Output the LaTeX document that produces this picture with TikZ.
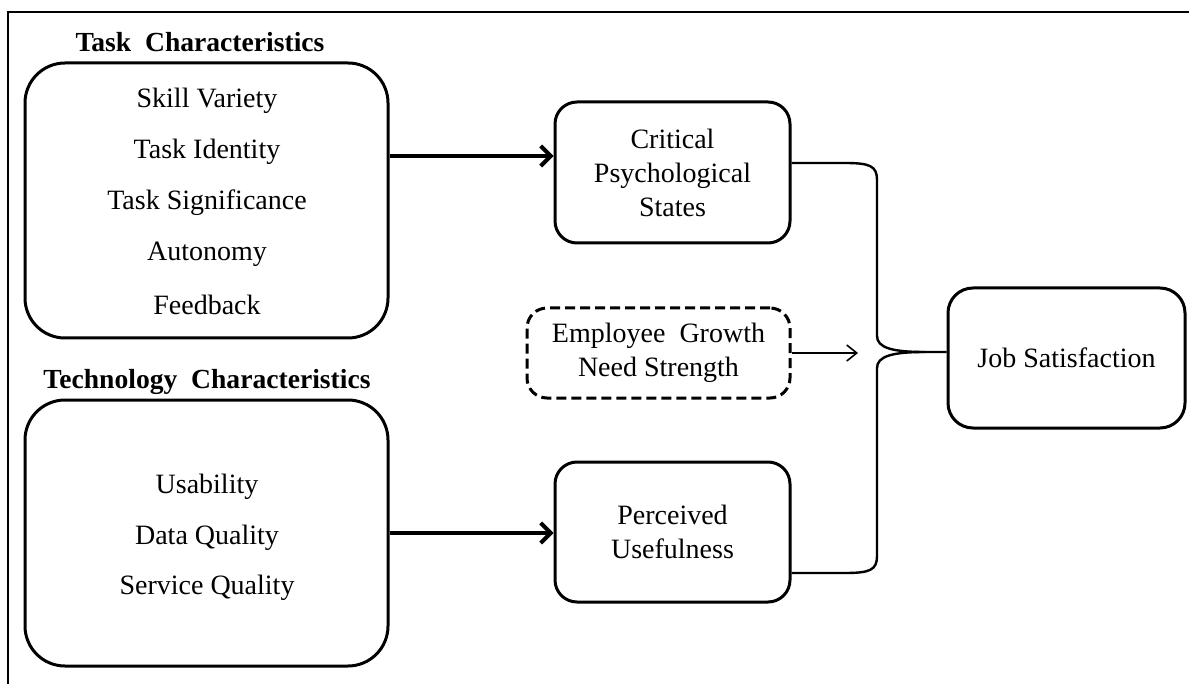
\documentclass[tikz,border=0pt]{standalone}
\usepackage{fontspec}
\setmainfont{Liberation Serif}
\usetikzlibrary{arrows.meta}
\tikzset{%
	groupbox/.style  = {draw, rectangle, rounded corners=20pt, line width=1.5pt, minimum width=181.5pt, inner sep=0pt},
	construct/.style = {draw, rectangle, rounded corners=11pt, line width=1.5pt, align=center, inner sep=0pt},
	moderator/.style = {construct, dash pattern=on 5pt off 2.5pt, rounded corners=10pt},
	grouptitle/.style= {font=\fontsize{13.8}{16.5}\selectfont\bfseries},
	item/.style      = {inner sep=0pt},
	bigarrow/.style  = {line width=2pt, -{Straight Barb[length=5pt,width=10pt]}},
	thinarrow/.style = {line width=0.8pt, -{Straight Barb[length=5pt,width=8pt]}},
	brace/.style     = {line width=1.2pt},
}
\begin{document}
\begin{tikzpicture}[x=0.5pt,y=-0.5pt,font=\fontsize{14}{17}\selectfont]
	\useasboundingbox (0,0) rectangle (1189,684);
	\draw[line width=1.2pt] (8,684) -- (8,12) -- (1189,12);  % frame
	% left groups
	\node[grouptitle] (tasktitle) at (200,42) {Task\ \ Characteristics};
	\node[groupbox, minimum height=137.5pt] (task) at (206.5,200.5) {};
	\foreach \txt [count=\i] in {Skill Variety, Task Identity, Task Significance, Autonomy, Feedback}
		\node[item] (t\i) at (207,50+51*\i) {\txt};
	\node[grouptitle] (techtitle) at (207,382) {Technology\ \ Characteristics};
	\node[groupbox, minimum height=133pt] (tech) at (206.5,533) {};
	\foreach \txt [count=\i] in {Usability, Data Quality, Service Quality}
		\node[item] (u\i) at (207,436.5+50.5*\i) {\txt};
	% middle and right
	\node[construct, minimum width=117.5pt, minimum height=70.5pt] (crit) at (672.5,172.5) {Critical\\Psychological\\States};
	\node[moderator, minimum width=131.5pt, minimum height=45pt] (egns) at (658.5,353) {Employee\ \ Growth\\Need Strength};
	\node[construct, minimum width=117.5pt, minimum height=70pt] (pu) at (672.5,532) {Perceived\\Usefulness};
	\node[construct, rounded corners=12.5pt, minimum width=118.5pt, minimum height=70pt] (js) at (1066.5,358) {Job Satisfaction};
	% connectors
	\draw[bigarrow] (task.east |- 0,156) -- (crit.west |- 0,156);
	\draw[bigarrow] (tech.east) -- (pu.west |- tech.east);
	\coordinate (egnstip) at (858,353);
	\draw[thinarrow] (egns.east) -- (egnstip);
	\coordinate (join) at (925,352);
	\draw[brace] (crit.east |- 0,163) -- (845,163) .. controls (870,163) and (877,166) .. (877,180) -- (877,336) .. controls (877,348) and (893,352) .. (join) -- (js.west |- join);
	\draw[brace] (pu.east |- 0,573) -- (845,573) .. controls (870,573) and (877,570) .. (877,556) -- (877,368) .. controls (877,356) and (893,352) .. (join);
\end{tikzpicture}
\end{document}
